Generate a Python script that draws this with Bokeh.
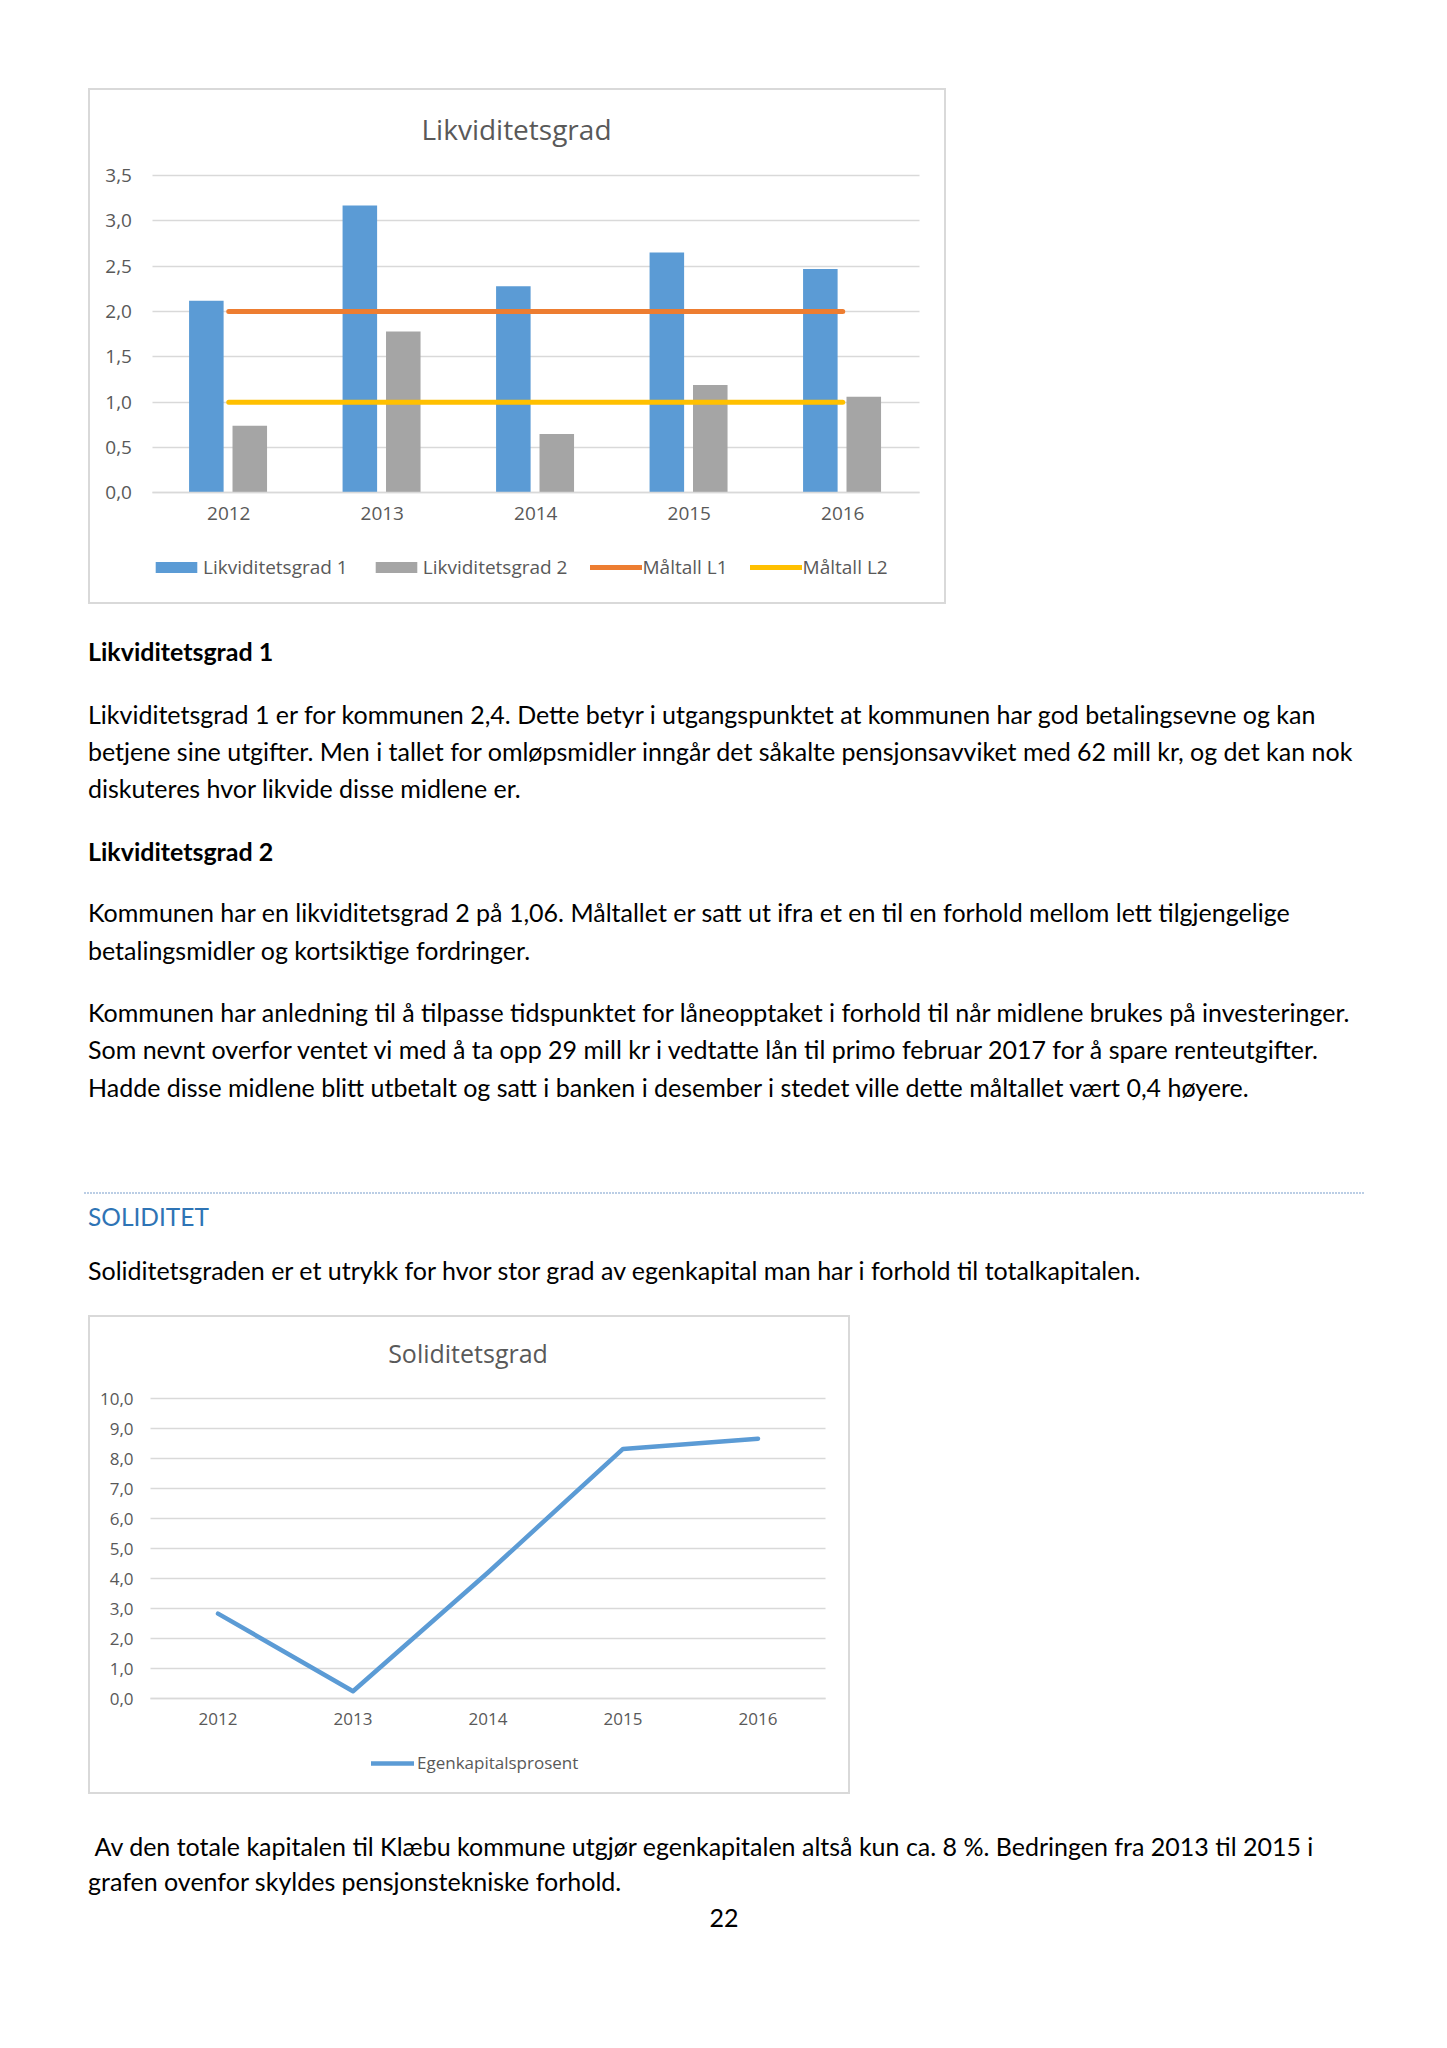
from bokeh.plotting import figure
from bokeh.models import (ColumnDataSource, Range1d, FixedTicker, CustomJSTickFormatter,
                          Spacer, Legend, LegendItem, Label)
from bokeh.transform import dodge
from bokeh.layouts import column, row
from bokeh.core.properties import value
from bokeh.embed import file_html
from bokeh.resources import INLINE

# ---------------- data ----------------
years = ["2012", "2013", "2014", "2015", "2016"]
likviditetsgrad_1 = [2.12, 3.17, 2.28, 2.65, 2.47]
likviditetsgrad_2 = [0.74, 1.78, 0.65, 1.19, 1.06]
maltall_l1 = [2.0, 2.0, 2.0, 2.0, 2.0]
maltall_l2 = [1.0, 1.0, 1.0, 1.0, 1.0]
likv_ticks = [0, 0.5, 1.0, 1.5, 2.0, 2.5, 3.0, 3.5]

egenkapitalsprosent = [2.83, 0.24, 4.2, 8.32, 8.66]
sol_ticks = [0, 1, 2, 3, 4, 5, 6, 7, 8, 9, 10]

xi = list(range(len(years)))  # category index of each year

BLUE = "#5B9BD5"
GRAY = "#A5A5A5"
ORANGE = "#ED7D31"
YELLOW = "#FFC000"
GRID = "#D9D9D9"
TXT = "#595959"
CHART_FONT = "Open Sans"
BODY_FONT = "Lato"

comma_fmt = CustomJSTickFormatter(code="return tick.toFixed(1).replace('.', ',')")
year_fmt = CustomJSTickFormatter(args=dict(labels=years), code="return labels[Math.round(tick)]")


def style_chart(p, yticks, fs, ystand, xstand):
    lo, hi = -0.5, len(years) - 0.5
    p.outline_line_color = GRID
    p.outline_line_width = 3
    p.xgrid.grid_line_color = None
    p.ygrid.grid_line_color = GRID
    p.ygrid.grid_line_width = 1.5
    p.ygrid.cross_bounds = (lo, hi)
    p.ygrid.ticker = FixedTicker(ticks=yticks)
    p.yaxis.ticker = FixedTicker(ticks=yticks)
    p.yaxis.formatter = comma_fmt
    p.yaxis.fixed_location = lo
    p.yaxis.axis_line_color = None
    p.yaxis.major_tick_line_color = None
    p.yaxis.minor_tick_line_color = None
    p.yaxis.major_tick_out = 0
    p.yaxis.minor_tick_out = 0
    p.yaxis.major_label_standoff = ystand
    p.xaxis.ticker = FixedTicker(ticks=xi)
    p.xaxis.formatter = year_fmt
    p.xaxis.fixed_location = 0
    p.xaxis.bounds = (lo, hi)
    p.xaxis.axis_line_color = GRID
    p.xaxis.axis_line_width = 1.5
    p.xaxis.major_tick_line_color = None
    p.xaxis.minor_tick_line_color = None
    p.xaxis.major_tick_out = 0
    p.xaxis.minor_tick_out = 0
    p.xaxis.major_label_standoff = xstand
    for ax in (p.xaxis, p.yaxis):
        ax.major_label_text_font = CHART_FONT
        ax.major_label_text_font_size = fs
        ax.major_label_text_color = TXT


def style_legend(lg, fs, gw, gh, standoff, spacing):
    lg.orientation = "horizontal"
    lg.border_line_color = None
    lg.background_fill_alpha = 0
    lg.padding = 0
    lg.margin = 0
    lg.spacing = spacing
    lg.label_standoff = standoff
    lg.glyph_width = gw
    lg.glyph_height = gh
    lg.label_text_font = CHART_FONT
    lg.label_text_font_size = fs
    lg.label_text_color = TXT


# ---------------- chart 1 ----------------
# the frame is the whole chart box; ranges put the categories and 0..3.5 where the reference has them
src1 = ColumnDataSource(dict(x=xi, l1=likviditetsgrad_1, l2=likviditetsgrad_2,
                             m1=maltall_l1, m2=maltall_l2))
p1 = figure(width=858, height=516, x_range=Range1d(-0.9137, 4.6759),
            y_range=Range1d(-1.2306, 4.4594),
            toolbar_location=None, output_backend="svg", min_border=0)
r_l1 = p1.vbar(x=dodge("x", -0.146), top="l1", width=0.225, source=src1,
               fill_color=BLUE, line_color=None)
r_l2 = p1.vbar(x=dodge("x", 0.137), top="l2", width=0.225, source=src1,
               fill_color=GRAY, line_color=None)
r_m1 = p1.line(x="x", y="m1", source=src1, line_color=ORANGE, line_width=5, line_cap="round")
r_m2 = p1.line(x="x", y="m2", source=src1, line_color=YELLOW, line_width=5, line_cap="round")
style_chart(p1, likv_ticks, "19px", 20, 14)
p1.add_layout(Label(x=428, y=476, x_units="screen", y_units="screen",
                    text="Likviditetsgrad", text_align="center", text_baseline="middle",
                    text_font=CHART_FONT, text_font_size="28px", text_color=TXT))
lg1 = Legend(items=[LegendItem(label="Likviditetsgrad 1", renderers=[r_l1]),
                    LegendItem(label="Likviditetsgrad 2", renderers=[r_l2]),
                    LegendItem(label="Måltall L1", renderers=[r_m1]),
                    LegendItem(label="Måltall L2", renderers=[r_m2])])
style_legend(lg1, "19px", 52, 14, 1, 22)
lg1.location = (62, 24.5)
p1.add_layout(lg1, "center")

# ---------------- chart 2 ----------------
src2 = ColumnDataSource(dict(x=xi, e=egenkapitalsprosent))
p2 = figure(width=762, height=479, x_range=Range1d(-0.9593, 4.6852),
            y_range=Range1d(-3.2, 12.7667),
            toolbar_location=None, output_backend="svg", min_border=0)
r_e = p2.line(x="x", y="e", source=src2, line_color=BLUE, line_width=4.5, line_join="round",
              line_cap="round")
style_chart(p2, sol_ticks, "17px", 17, 14)
p2.add_layout(Label(x=379.5, y=442, x_units="screen", y_units="screen",
                    text="Soliditetsgrad", text_align="center", text_baseline="middle",
                    text_font=CHART_FONT, text_font_size="25px", text_color=TXT))
lg2 = Legend(items=[LegendItem(label="Egenkapitalsprosent", renderers=[r_e])])
style_legend(lg2, "17px", 43, 12, 3, 10)
lg2.location = (283, 20)
p2.add_layout(lg2, "center")


# ---------------- text blocks ----------------
def text_fig(y_top, y_bot):
    f = figure(width=1431, height=int(y_bot - y_top), x_range=Range1d(0, 1431),
               y_range=Range1d(y_bot, y_top), x_axis_type=None, y_axis_type=None,
               toolbar_location=None, output_backend="svg", min_border=0)
    f.outline_line_color = None
    f.grid.visible = False
    return f


BODY_FS = "25px"
t1 = text_fig(604, 1315)
head_text = ["Likviditetsgrad 1", "Likviditetsgrad 2"]
head_y = [650.5, 850]
t1.text(x=[87.5] * 2, y=head_y, text=head_text, text_font=value(BODY_FONT),
        text_font_style="bold", text_font_size=BODY_FS, text_color="#000000",
        text_baseline="middle")
body_text = [
    "Likviditetsgrad 1 er for kommunen 2,4. Dette betyr i utgangspunktet at kommunen har god betalingsevne og kan",
    "betjene sine utgifter. Men i tallet for omløpsmidler inngår det såkalte pensjonsavviket med 62 mill kr, og det kan nok",
    "diskuteres hvor likvide disse midlene er.",
    "Kommunen har en likviditetsgrad 2 på 1,06. Måltallet er satt ut ifra et en til en forhold mellom lett tilgjengelige",
    "betalingsmidler og kortsiktige fordringer.",
    "Kommunen har anledning til å tilpasse tidspunktet for låneopptaket i forhold til når midlene brukes på investeringer.",
    "Som nevnt overfor ventet vi med å ta opp 29 mill kr i vedtatte lån til primo februar 2017 for å spare renteutgifter.",
    "Hadde disse midlene blitt utbetalt og satt i banken i desember i stedet ville dette måltallet vært 0,4 høyere.",
    "Soliditetsgraden er et utrykk for hvor stor grad av egenkapital man har i forhold til totalkapitalen.",
]
body_y = [713, 750, 787.5, 911.6, 949.5, 1011, 1048.7, 1086.6, 1269.5]
t1.text(x=[87.5] * len(body_text), y=body_y, text=body_text, text_font=value(BODY_FONT),
        text_font_size=BODY_FS, text_color="#000000", text_baseline="middle")
t1.segment(x0=[84], y0=[1192.4], x1=[1363.5], y1=[1192.4], line_color="#4A7EBB",
           line_width=1.5, line_dash="1 2")
t1.text(x=[87.5], y=[1216], text=["SOLIDITET"], text_font=value(BODY_FONT),
        text_font_size="24.5px", text_color="#2E74B5", text_baseline="middle")

t2 = text_fig(1794, 2040)
body2 = [" Av den totale kapitalen til Klæbu kommune utgjør egenkapitalen altså kun ca. 8 %. Bedringen fra 2013 til 2015 i",
         "grafen ovenfor skyldes pensjonstekniske forhold."]
t2.text(x=[94, 87.5], y=[1845.4, 1880.6], text=body2, text_font=value(BODY_FONT),
        text_font_size=BODY_FS, text_color="#000000", text_baseline="middle")
t2.text(x=[723.5], y=[1917], text=["22"], text_font=value(BODY_FONT),
        text_font_size=BODY_FS, text_color="#000000", text_baseline="middle", text_align="center")

layout = column(
    Spacer(height=88),
    row(Spacer(width=88), p1),
    t1,
    row(Spacer(width=88), p2),
    t2,
)

open("out.html", "w").write(file_html(layout, INLINE))
